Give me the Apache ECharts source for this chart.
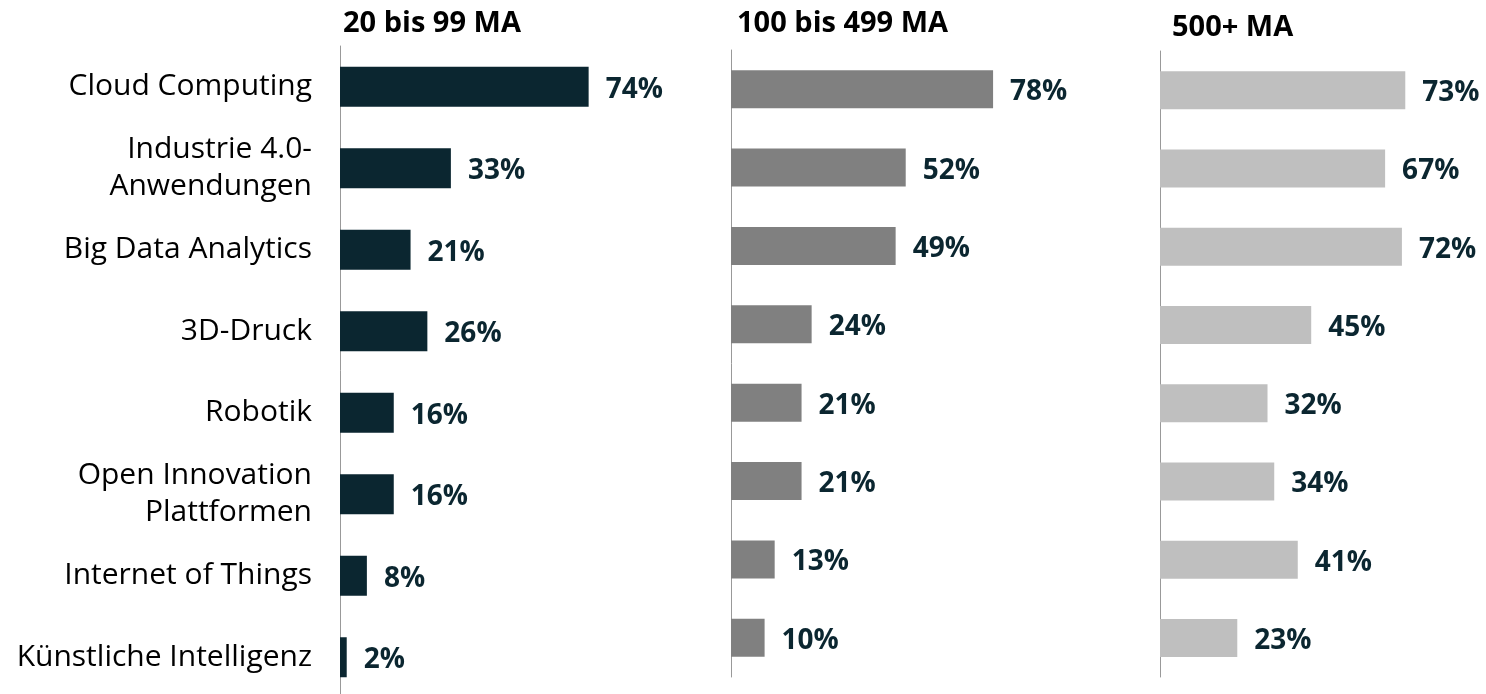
<!DOCTYPE html>
<html><head><meta charset="utf-8">
<script src="https://cdn.jsdelivr.net/npm/echarts@6/dist/echarts.min.js"></script>
<style>html,body{margin:0;padding:0;background:#fff}#c{width:1486px;height:694px}</style>
</head><body><div id="c"></div>
<script>
var categories = ['Cloud Computing','Industrie 4.0-\nAnwendungen','Big Data Analytics','3D-Druck','Robotik','Open Innovation\nPlattformen','Internet of Things','Künstliche Intelligenz'];
var panelTitles = ['20 bis 99 MA','100 bis 499 MA','500+ MA'];
var small = [74,33,21,26,16,16,8,2];
var medium = [78,52,49,24,21,21,13,10];
var large = [73,67,72,45,32,34,41,23];

var seriesData = [small, medium, large];
var colors = ['#0b2630','#808080','#bfbfbf'];
var grids = [
  {left:340, top:46, width:336, height:652},
  {left:731, top:50, width:336, height:627},
  {left:1160, top:51, width:336, height:626}
];
var barWidths = [40,38,38];
var titlePos = [{left:343,top:9},{left:737,top:9},{left:1172,top:13}];
var FONT = '"Open Sans", sans-serif';

var option = {
  animation:false,
  backgroundColor:'#fff',
  title: panelTitles.map(function(t,i){return {text:t,left:titlePos[i].left,top:titlePos[i].top,padding:0,
    textStyle:{fontFamily:FONT,fontWeight:'bold',fontSize:29,color:'#000'}};}),
  grid: grids.map(function(g){return Object.assign({containLabel:false,outerBoundsMode:'none'},g);}),
  xAxis: grids.map(function(g,i){return {type:'value',gridIndex:i,min:0,max:100,show:false};}),
  yAxis: grids.map(function(g,i){return {type:'category',gridIndex:i,data:categories,inverse:true,
    axisLine:{show:true,lineStyle:{color:'#999',width:1}},axisTick:{show:false},splitLine:{show:false},
    axisLabel:{show:i===0,margin:28,fontFamily:FONT,fontSize:30,color:'#000',lineHeight:37,align:'right'}};}),
  series: seriesData.map(function(d,i){return {type:'bar',xAxisIndex:i,yAxisIndex:i,data:d,barWidth:barWidths[i],
    itemStyle:{color:colors[i]},
    label:{show:true,position:'right',distance:17,offset:[0,3],formatter:'{c}%',fontFamily:FONT,fontWeight:'bold',fontSize:28,color:'#0b2630'}};})
};
echarts.init(document.getElementById('c')).setOption(option);
</script></body></html>
